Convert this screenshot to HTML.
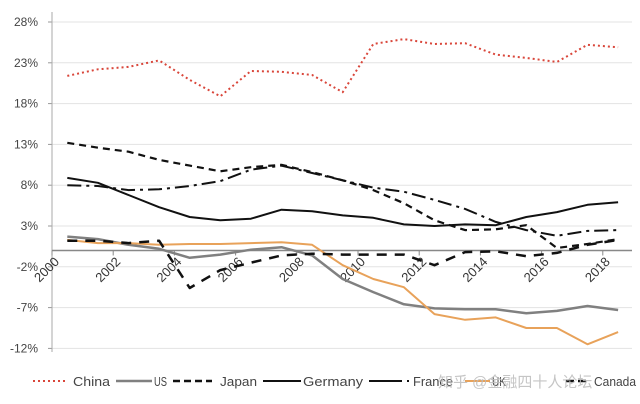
<!DOCTYPE html>
<html><head><meta charset="utf-8">
<style>
html,body{margin:0;padding:0;background:#fff;}
svg{display:block;font-family:"Liberation Sans","Noto Sans CJK SC",sans-serif;}
</style></head>
<body>
<svg id="chart" width="640" height="404" viewBox="0 0 640 404" xmlns="http://www.w3.org/2000/svg">
<g id="grid"></g>
<g id="yaxis"></g>
<g id="xaxis"></g>
<g id="series"></g>
<g id="legend"></g>
</svg>
<script>
const years = [2000,2001,2002,2003,2004,2005,2006,2007,2008,2009,2010,2011,2012,2013,2014,2015,2016,2017,2018];
const yTicks = [28,23,18,13,8,3,-2,-7,-12];
const xTickLabels = ["2000","2002","2004","2006","2008","2010","2012","2014","2016","2018"];
const china = [21.4,22.2,22.5,23.3,20.9,18.9,22.0,21.9,21.5,19.4,25.3,25.9,25.3,25.4,24.0,23.6,23.1,25.2,24.9];
const us = [1.7,1.4,0.7,0.2,-0.9,-0.5,0.1,0.4,-0.6,-3.5,-5.1,-6.6,-7.1,-7.2,-7.2,-7.7,-7.4,-6.8,-7.3];
const japan = [13.2,12.6,12.1,11.1,10.4,9.7,10.2,10.5,9.6,8.6,7.4,5.8,3.7,2.5,2.6,3.1,0.3,0.8,1.4];
const germany = [8.9,8.3,6.8,5.3,4.1,3.7,3.9,5.0,4.8,4.3,4.0,3.2,3.0,3.2,3.1,4.1,4.7,5.6,5.9];
const france = [8.0,7.9,7.4,7.5,7.9,8.5,9.9,10.4,9.5,8.6,7.7,7.2,6.2,5.1,3.5,2.5,1.8,2.4,2.5];
const uk = [1.3,0.9,0.9,0.7,0.8,0.8,0.9,1.0,0.7,-1.8,-3.5,-4.5,-7.8,-8.5,-8.2,-9.5,-9.5,-11.5,-10.0];
const canada = [1.2,1.2,0.9,1.2,-4.6,-2.4,-1.5,-0.6,-0.4,-0.5,-0.5,-0.5,-1.8,-0.2,-0.1,-0.7,-0.3,0.7,1.3];

const NS="http://www.w3.org/2000/svg";
const X0=52, STEP=30.6, Y3=226, PPU=8.16;
function xPos(i){return X0+STEP*(i+0.5);}
function xBound(k){return X0+STEP*k;}
function yPos(v){return Y3-(v-3)*PPU;}
function mk(tag,attrs,parent){const e=document.createElementNS(NS,tag);for(const k in attrs)e.setAttribute(k,attrs[k]);parent.appendChild(e);return e;}

const grid=document.getElementById('grid'), ya=document.getElementById('yaxis'), xa=document.getElementById('xaxis'), ser=document.getElementById('series'), leg=document.getElementById('legend');
yTicks.forEach(t=>{
  const y=yPos(t);
  const g=mk('line',{x1:X0,x2:632,y1:y,y2:y,stroke:'#e3e3e3','stroke-width':1},grid);
  
  
  const tx=mk('text',{x:38,y:y+4,'text-anchor':'end','font-size':12,fill:'#444'},ya);
  tx.textContent=t+'%';
  
  
  const tk=mk('line',{x1:X0-4,x2:X0,y1:y,y2:y,stroke:'#999'},ya);
  
  
});
const ax=mk('line',{x1:X0,x2:X0,y1:12,y2:352,stroke:'#aaa','stroke-width':1},ya);


const zl=mk('line',{x1:X0,x2:632,y1:yPos(0),y2:yPos(0),stroke:'#888','stroke-width':1.5},xa);


xTickLabels.forEach((lab,j)=>{
  const x=xBound(j*2), y0=yPos(0);
  const tk=mk('line',{x1:x,x2:x,y1:y0,y2:y0+5,stroke:'#888'},xa);
  
  
  const tx=mk('text',{x:x+8,y:y0+12,'text-anchor':'end','font-size':13,fill:'#333',transform:`rotate(-45 ${x+8} ${y0+12})`},xa);
  tx.textContent=lab;
  
  
});
const styles=[
  {d:china,name:'china-line',c:'#d9463a',w:2,dash:'2,3'},
  {d:us,name:'us-line',c:'#808080',w:2.5,dash:''},
  {d:japan,name:'japan-line',c:'#111',w:2.2,dash:'7,5'},
  {d:germany,name:'germany-line',c:'#111',w:2,dash:''},
  {d:france,name:'france-line',c:'#111',w:2,dash:'14,5,3,5'},
  {d:uk,name:'uk-line',c:'#e8a25a',w:2,dash:''},
  {d:canada,name:'canada-line',c:'#111',w:2.5,dash:'10,8'}
];
styles.forEach(s=>{
  const pts=s.d.map((v,i)=>xPos(i).toFixed(1)+','+yPos(v).toFixed(1)).join(' ');
  const p=mk('polyline',{points:pts,fill:'none',stroke:s.c,'stroke-width':s.w,'stroke-dasharray':s.dash,'stroke-linejoin':'round'},ser);
  
  
});
const legItems=[
  {x1:33,x2:65,tx:73,tl:37,label:'China',c:'#d9463a',dash:'2,3',w:2},
  {x1:116,x2:152,tx:154,tl:13,label:'US',c:'#808080',dash:'',w:2.5},
  {x1:173,x2:212,tx:220,tl:37,label:'Japan',c:'#111',dash:'7,4',w:2.5},
  {x1:263,x2:301,tx:303,tl:60,label:'Germany',c:'#111',dash:'',w:2},
  {x1:369,x2:410,tx:413,tl:40,label:'France',c:'#111',dash:'33,5,2,5',w:2},
  {x1:465,x2:490,tx:492,tl:14,label:'UK',c:'#e8a25a',dash:'',w:2},
  {x1:566,x2:590,tx:594,tl:42,label:'Canada',c:'#111',dash:'8,4',w:2.5}
];
legItems.forEach(l=>{
  const ln=mk('line',{x1:l.x1,x2:l.x2,y1:381,y2:381,stroke:l.c,'stroke-width':l.w,'stroke-dasharray':l.dash},leg);
  
  
  const t=mk('text',{x:l.tx,y:386,'font-size':13,fill:'#444',textLength:l.tl,lengthAdjust:'spacingAndGlyphs'},leg);
  t.textContent=l.label;
  
  
});
const wm=mk('text',{x:438,y:387,'font-size':15,fill:'#bbb','fill-opacity':0.85},leg);
wm.textContent='知乎 @金融四十人论坛';


</script>
</body></html>
